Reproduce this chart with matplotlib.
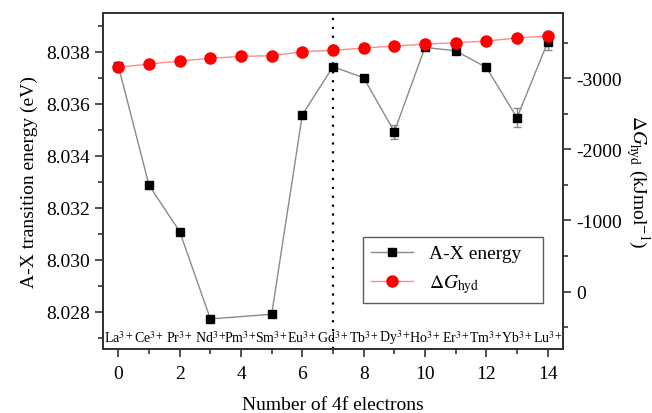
import matplotlib
matplotlib.use('Agg')
import matplotlib.pyplot as plt
from matplotlib.ticker import MultipleLocator, FormatStrFormatter
from matplotlib.lines import Line2D
import matplotlib.transforms as mtransforms

plt.rcParams['font.family'] = ['Liberation Serif', 'DejaVu Serif']
plt.rcParams['mathtext.fontset'] = 'stix'
plt.rcParams['axes.unicode_minus'] = False

# datos
n_4f = [0, 1, 2, 3, 4, 5, 6, 7, 8, 9, 10, 11, 12, 13, 14]
iones = ['La', 'Ce', 'Pr', 'Nd', 'Pm', 'Sm', 'Eu', 'Gd', 'Tb', 'Dy', 'Ho', 'Er', 'Tm', 'Yb', 'Lu']

# energia A-X (eV), Pm sin dato
n_ax = [0, 1, 2, 3, 5, 6, 7, 8, 9, 10, 11, 12, 13, 14]
energia_ax = [8.03746, 8.03287, 8.03109, 8.02773, 8.02791, 8.03558, 8.03743,
              8.03700, 8.03493, 8.03817, 8.03804, 8.03740, 8.03547, 8.03837]
error_ax = [0.00005, 0.00010, 0.00006, 0.00012, 0.00005, 0.00005, 0.00006,
            0.00012, 0.00027, 0.00005, 0.00010, 0.00005, 0.00037, 0.00030]

# energia libre de hidratacion (kJ/mol)
dg_hyd = [-3155, -3201, -3243, -3281, -3309, -3318, -3374, -3394,
          -3426, -3454, -3482, -3501, -3525, -3567, -3595]

gris = '#8a8a8a'
rosa = '#ff8a8a'

fig = plt.figure(figsize=(6.52, 4.14), dpi=100)
ax1 = fig.add_axes([0.158, 0.155, 0.7055, 0.811])
ax2 = ax1.twinx()

ax1.errorbar(n_ax, energia_ax, yerr=error_ax, color=gris, lw=1.0,
             marker='s', ms=5.5, mfc='black', mec='black',
             ecolor=gris, elinewidth=1.0, capsize=3, capthick=1.0, zorder=3)
ax2.plot(n_4f, dg_hyd, color=rosa, lw=1.0, marker='o', ms=8,
         mfc='red', mec='red')

ax1.axvline(7, color='black', ls=(0, (1, 3)), lw=1.6, zorder=1)

ax1.set_xlim(-0.5, 14.5)
ax1.set_ylim(8.02658, 8.03949)
ax2.set_ylim(806, -3918)

ax1.xaxis.set_major_locator(MultipleLocator(2))
ax1.xaxis.set_minor_locator(MultipleLocator(1))
ax1.yaxis.set_major_locator(MultipleLocator(0.002))
ax1.yaxis.set_minor_locator(MultipleLocator(0.001))
ax1.yaxis.set_major_formatter(FormatStrFormatter('%.3f'))
ax2.yaxis.set_major_locator(MultipleLocator(1000))
ax2.yaxis.set_minor_locator(MultipleLocator(500))

for ax in (ax1, ax2):
    for s in ax.spines.values():
        s.set_linewidth(1.3)
        s.set_color('#333333')
    ax.tick_params(which='both', direction='out', labelsize=14, width=1.2, color='#333333')
    ax.tick_params(which='major', length=6)
    ax.tick_params(which='minor', length=3.5)
ax1.tick_params(axis='x', pad=6)

# etiquetas de los iones dentro del eje
trans = mtransforms.blended_transform_factory(ax1.transData, ax1.transAxes)
for x, ion in zip(n_4f, iones):
    ax1.text(x, 0.035, ion + r'$^{3+}$', transform=trans, ha='center', va='center', fontsize=10)

ax1.set_xlabel('Number of 4f electrons', fontsize=14, labelpad=10)
ax1.set_ylabel('A-X transition energy (eV)', fontsize=14, labelpad=6)
ax2.set_ylabel(r'$\Delta G_{\rm hyd}$ (kJmol$^{-1}$)', fontsize=14, rotation=270, va='center')
ax2.yaxis.set_label_coords(1.163, 0.5)

h1 = Line2D([], [], color=gris, lw=1.0, marker='s', ms=5.5, mfc='black', mec='black')
h2 = Line2D([], [], color=rosa, lw=1.0, marker='o', ms=8, mfc='red', mec='red')
leg = ax2.legend([h1, h2], ['A-X energy', r'$\Delta G_{\rm hyd}$'], loc='lower left',
                 bbox_to_anchor=(0.565, 0.137, 0.392, 0.205), mode='expand',
                 fontsize=14, frameon=True, fancybox=False, edgecolor='#333333',
                 handlelength=2.2, borderaxespad=0)
leg.get_frame().set_linewidth(1.0)

fig.savefig('out.png', dpi=100)
